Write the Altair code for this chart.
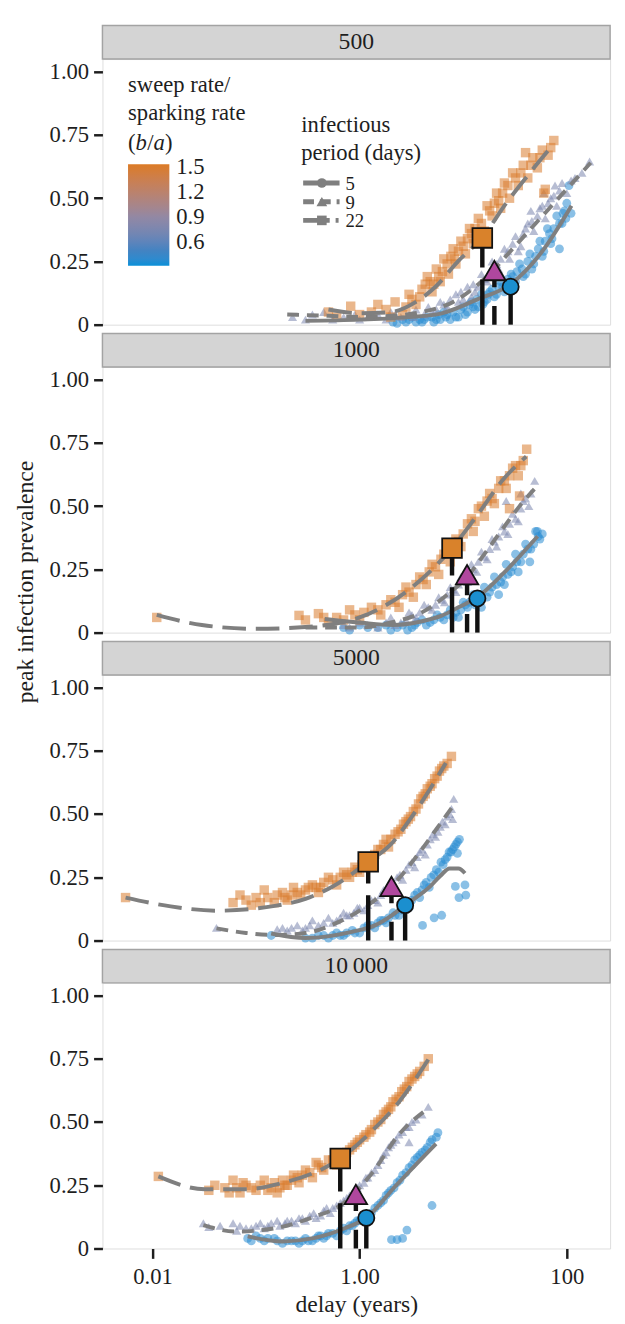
import altair as alt
import pandas as pd

FONT = "Liberation Serif, 'Times New Roman', Times, serif"
INK = "#1e1e1e"
GREY = "#7f7f7f"
W, H, STRIP = 516, 270, 34

PANELS = ["500", "1000", "5000", "10\u2009000"]
PERIODS = ["5", "9", "22"]
RATIO = [0.38, 0.76, 1.50]          # b/a of each infectious-period series
X_DOMAIN = [0.00329, 262]
Y_DOMAIN = [0, 1.05]
X_TICKS = [0.01, 1, 100]
Y_TICKS = [0, 0.25, 0.5, 0.75, 1.0]
COLOR_DOMAIN = [0.32, 0.5, 0.9, 1.53]
COLOR_RANGE = ["#0a90d8", "#4383c2", "#9288a4", "#dc7b25"]
LEGEND_VALUES = [0.6, 0.9, 1.2, 1.5]

# ---------------- panel 500 ----------------
P500_CIRCLES = [(2.1, 0.01), (2.6, 0.02), (3, 0.02), (3.5, 0.01), (4, 0.01), (4.5, 0.03), (5, 0.03), (5.5, 0.02),
                (6, 0.02), (6.5, 0.05), (7, 0.04), (8, 0.05), (8.5, 0.03), (9, 0.03), (10, 0.07), (11, 0.05),
                (12, 0.09), (13, 0.06), (14, 0.07), (15, 0.12), (16, 0.09), (17, 0.1), (19, 0.14), (20, 0.11),
                (21, 0.12), (23, 0.17), (25, 0.13), (26, 0.14), (29, 0.2), (31, 0.16), (32, 0.17), (35, 0.24),
                (38, 0.19), (40, 0.2), (44, 0.28), (46, 0.22), (48, 0.24), (55, 0.33), (58, 0.27), (60, 0.29),
                (65, 0.38), (70, 0.32), (72, 0.34), (80, 0.43), (85, 0.3), (90, 0.4), (95, 0.45), (100, 0.48),
                (105, 0.55), (110, 0.44),
                (2.3, 0.005), (2.8, 0.01), (3.2, 0.03), (3.8, 0.02), (4.2, 0.02), (5.2, 0.01), (5.8, 0.04),
                (6.8, 0.03), (7.5, 0.02), (9.5, 0.06), (10.5, 0.04), (11.5, 0.08), (12.5, 0.07), (13.5, 0.1),
                (15.5, 0.08), (17.5, 0.12), (18, 0.13), (22, 0.15), (24, 0.15), (27, 0.18), (28, 0.16), (30, 0.19),
                (33, 0.21), (37, 0.22), (42, 0.25), (50, 0.27), (53, 0.3), (62, 0.33), (68, 0.36), (75, 0.38),
                (85, 0.4), (92, 0.44), (98, 0.42)]
P500_TRIANGLES = [(0.225, 0.03), (0.3, 0.02), (0.45, 0.05), (0.7, 0.03), (1.0, 0.02), (1.5, 0.04), (2.0, 0.05),
                  (2.5, 0.03), (3.0, 0.04), (3.5, 0.06), (4.2, 0.04), (5, 0.05), (6, 0.09), (7, 0.07), (8.5, 0.12),
                  (10, 0.1), (11, 0.15), (12, 0.11), (13, 0.13), (15, 0.2), (17, 0.17), (19, 0.25), (22, 0.22),
                  (24, 0.19), (25, 0.3), (28, 0.26), (32, 0.35), (34, 0.29), (36, 0.31), (42, 0.4), (45, 0.45),
                  (48, 0.37), (55, 0.46), (60, 0.52), (62, 0.42), (70, 0.5), (77, 0.55), (80, 0.47), (90, 0.56),
                  (100, 0.52), (120, 0.58), (166, 0.645),
                  (0.35, 0.04), (0.55, 0.02), (0.9, 0.04), (1.2, 0.03), (1.8, 0.02), (2.2, 0.04), (3.3, 0.03),
                  (4.6, 0.07), (5.5, 0.06), (6.5, 0.08), (7.5, 0.1), (9, 0.09), (9.5, 0.13), (12.5, 0.16),
                  (14, 0.15), (16, 0.18), (18, 0.21), (20, 0.2), (21, 0.24), (23, 0.26), (27, 0.29), (30, 0.32),
                  (38, 0.36), (40, 0.38), (46, 0.41), (52, 0.43), (58, 0.47), (66, 0.48), (75, 0.51), (85, 0.53),
                  (110, 0.57), (140, 0.6)]
P500_SQUARES = [(0.82, 0.073), (1.0, 0.04), (1.3, 0.05), (1.8, 0.06), (2.2, 0.09), (2.6, 0.04), (3.0, 0.12),
                (3.5, 0.08), (4.0, 0.14), (4.5, 0.19), (5.0, 0.13), (5.5, 0.22), (6.0, 0.17), (6.5, 0.26), (7.2, 0.2),
                (8.0, 0.3), (8.5, 0.24), (9.5, 0.33), (10.5, 0.28), (11.5, 0.38), (12.5, 0.32), (14, 0.42),
                (16, 0.37), (17, 0.47), (19, 0.43), (21, 0.52), (23, 0.46), (25, 0.56), (28, 0.5), (30, 0.6),
                (34, 0.55), (38, 0.63), (40, 0.68), (42, 0.58), (47, 0.66), (52, 0.62), (58, 0.69), (60, 0.52),
                (62, 0.535), (66, 0.67), (75, 0.728),
                (0.5, 0.05), (0.6, 0.03), (1.5, 0.08), (2.0, 0.03), (2.8, 0.07), (3.2, 0.1), (3.8, 0.11),
                (4.3, 0.16), (4.8, 0.17), (5.2, 0.16), (5.8, 0.19), (6.3, 0.21), (7.0, 0.24), (7.6, 0.27),
                (8.2, 0.26), (9.0, 0.29), (10, 0.31), (11, 0.34), (12, 0.36), (13, 0.38), (15, 0.4), (18, 0.45),
                (20, 0.48), (22, 0.49), (24, 0.52), (27, 0.55), (32, 0.58), (36, 0.6), (45, 0.63), (55, 0.66),
                (70, 0.7)]
P500_FIT5 = [(0.3, 0.015), (1, 0.02), (3, 0.03), (6.2, 0.045), (13.7, 0.1), (28.7, 0.16), (58, 0.29), (111, 0.47)]
P500_FIT9 = [(0.2, 0.04), (0.5, 0.035), (1, 0.03), (2, 0.035), (4, 0.05), (8, 0.09), (14, 0.16), (20, 0.22),
             (30, 0.3), (50, 0.4), (97, 0.53), (170, 0.64)]
P500_FIT22 = [(0.5, 0.06), (1, 0.045), (2, 0.05), (3.5, 0.09), (5.4, 0.15), (8.9, 0.25), (15.3, 0.345), (26, 0.48),
              (44, 0.6), (70, 0.7)]
P500_PEAKS = [(28.7, 0.15), (20.0, 0.214), (15.3, 0.343)]

# ---------------- panel 1000 ----------------
P1000_CIRCLES = [(0.7, 0.02), (1.0, 0.03), (1.5, 0.02), (2, 0.01), (2.6, 0.03), (3.2, 0.02), (3.6, 0.04), (4, 0.05),
                 (4.8, 0.04), (5.6, 0.07), (6.5, 0.05), (7.5, 0.09), (8.5, 0.08), (9, 0.06), (10, 0.12), (11, 0.1),
                 (12.5, 0.15), (14, 0.13), (15, 0.1), (16, 0.18), (18, 0.16), (20, 0.22), (22, 0.15), (23, 0.2),
                 (25, 0.19), (26, 0.27), (29, 0.24), (32, 0.31), (34, 0.24), (36, 0.28), (40, 0.35), (44, 0.28),
                 (45, 0.33), (50, 0.4), (52, 0.4), (55, 0.37),
                 (0.8, 0.01), (1.2, 0.02), (1.8, 0.03), (2.3, 0.02), (2.9, 0.01), (3.4, 0.03), (4.4, 0.03),
                 (5.2, 0.05), (6, 0.06), (7, 0.07), (8, 0.06), (9.5, 0.09), (10.5, 0.11), (11.5, 0.12), (13, 0.11),
                 (15, 0.15), (17, 0.14), (19, 0.18), (21, 0.19), (24, 0.22), (27, 0.23), (30, 0.26), (33, 0.28),
                 (38, 0.31), (42, 0.33), (48, 0.35), (53, 0.38), (58, 0.39)]
P1000_TRIANGLES = [(0.7, 0.03), (1.0, 0.04), (1.5, 0.02), (2, 0.06), (2.5, 0.04), (3, 0.08), (3.5, 0.06),
                   (4.2, 0.11), (5, 0.09), (5.8, 0.14), (6.6, 0.12), (7.5, 0.18), (8.5, 0.16), (9.5, 0.22), (11, 0.2),
                   (12, 0.27), (13.5, 0.24), (15, 0.32), (17, 0.29), (19, 0.37), (21, 0.34), (24, 0.42), (26, 0.52),
                   (27, 0.39), (30, 0.47), (34, 0.44), (36, 0.55), (38, 0.52), (43, 0.5), (49, 0.6),
                   (0.8, 0.02), (1.2, 0.03), (1.8, 0.04), (2.2, 0.03), (2.8, 0.05), (3.2, 0.07), (3.8, 0.08),
                   (4.6, 0.1), (5.4, 0.11), (6.2, 0.13), (7, 0.15), (8, 0.17), (9, 0.19), (10, 0.21), (11.5, 0.23),
                   (12.5, 0.25), (14, 0.28), (16, 0.3), (18, 0.33), (20, 0.36), (22, 0.38), (25, 0.4), (28, 0.43),
                   (32, 0.45), (36, 0.49), (40, 0.53), (45, 0.55)]
P1000_SQUARES = [(0.011, 0.06), (0.26, 0.068), (0.4, 0.075), (0.5, 0.04), (0.6, 0.06), (0.8, 0.09), (1.0, 0.05),
                 (1.3, 0.1), (1.6, 0.07), (2.0, 0.13), (2.4, 0.1), (2.8, 0.18), (3.3, 0.14), (3.8, 0.22), (4.4, 0.19),
                 (5, 0.27), (5.8, 0.23), (6.5, 0.31), (7.5, 0.28), (8.5, 0.37), (9.5, 0.34), (11, 0.43), (12.5, 0.4),
                 (14, 0.49), (16, 0.46), (18, 0.55), (20, 0.51), (23, 0.6), (26, 0.57), (28, 0.49), (30, 0.65),
                 (34, 0.62), (35, 0.54), (38, 0.68), (41, 0.725),
                 (0.3, 0.05), (0.45, 0.06), (0.7, 0.05), (0.9, 0.07), (1.1, 0.08), (1.5, 0.09), (1.8, 0.11),
                 (2.2, 0.12), (2.6, 0.15), (3.0, 0.16), (3.5, 0.19), (4.1, 0.21), (4.7, 0.24), (5.4, 0.26),
                 (6.1, 0.29), (7, 0.32), (8, 0.33), (9, 0.36), (10, 0.39), (12, 0.45), (13, 0.44), (15, 0.5),
                 (17, 0.52), (19, 0.53), (22, 0.57), (25, 0.6), (28, 0.62), (32, 0.66), (36, 0.66)]
P1000_FIT5 = [(0.46, 0.054), (1, 0.04), (2.1, 0.03), (4, 0.045), (6.2, 0.067), (9, 0.1), (13.7, 0.14), (24.4, 0.234),
              (52.3, 0.381)]
P1000_FIT9 = [(0.3, 0.02), (1, 0.02), (2, 0.04), (4, 0.08), (7, 0.15), (10.9, 0.22), (16, 0.31), (25, 0.42),
              (35, 0.5), (48.6, 0.567)]
P1000_FIT22 = [(0.011, 0.07), (0.03, 0.03), (0.1, 0.015), (0.3, 0.022), (1.0, 0.06), (3.0, 0.17), (7.8, 0.334),
               (13.7, 0.465), (24.4, 0.606), (40.6, 0.696)]
P1000_PEAKS = [(13.7, 0.135), (10.9, 0.229), (7.8, 0.334)]

# ---------------- panel 5000 ----------------
P5000_CIRCLES = [(0.14, 0.02), (0.3, 0.01), (0.4, 0.02), (0.5, 0.01), (0.6, 0.03), (0.7, 0.02), (0.85, 0.04),
                 (1.0, 0.03), (1.2, 0.06), (1.4, 0.05), (1.6, 0.08), (1.8, 0.07), (2.1, 0.11), (2.4, 0.1),
                 (2.7, 0.14), (3.0, 0.13), (3.4, 0.18), (3.8, 0.17), (4.2, 0.22), (4.7, 0.21), (5.2, 0.26),
                 (5.8, 0.27), (6.4, 0.3), (7.0, 0.33), (7.6, 0.35), (8.2, 0.37), (8.8, 0.39), (8.8, 0.345),
                 (4.05, 0.06), (5.24, 0.09), (6.2, 0.1), (8.4, 0.214), (10.4, 0.22), (9.1, 0.17), (10.6, 0.18),
                 (0.35, 0.01), (0.45, 0.02), (0.55, 0.02), (0.65, 0.02), (0.75, 0.03), (0.9, 0.03), (1.1, 0.05),
                 (1.3, 0.06), (1.5, 0.07), (1.7, 0.08), (1.9, 0.09), (2.2, 0.1), (2.5, 0.12), (2.85, 0.15),
                 (3.2, 0.16), (3.6, 0.19), (4.0, 0.2), (4.4, 0.23), (4.9, 0.25), (5.5, 0.28), (6.1, 0.31),
                 (6.7, 0.32), (7.3, 0.35), (7.9, 0.36), (8.5, 0.38), (9.2, 0.4)]
P5000_TRIANGLES = [(0.0415, 0.05), (0.16, 0.045), (0.2, 0.04), (0.25, 0.06), (0.3, 0.05), (0.35, 0.08), (0.4, 0.06),
                   (0.5, 0.09), (0.6, 0.08), (0.7, 0.11), (0.8, 0.1), (0.95, 0.13), (1.1, 0.12), (1.3, 0.16),
                   (1.5, 0.15), (1.7, 0.2), (2.0, 0.19), (2.3, 0.25), (2.6, 0.24), (3.0, 0.3), (3.4, 0.29),
                   (3.8, 0.35), (4.3, 0.34), (4.8, 0.4), (5.4, 0.41), (6.0, 0.45), (6.7, 0.46), (7.4, 0.5),
                   (7.9, 0.48), (8.1, 0.56),
                   (0.18, 0.05), (0.22, 0.05), (0.28, 0.04), (0.33, 0.06), (0.45, 0.07), (0.55, 0.07), (0.65, 0.09),
                   (0.75, 0.1), (0.88, 0.11), (1.0, 0.13), (1.2, 0.14), (1.4, 0.16), (1.6, 0.18), (1.85, 0.2),
                   (2.15, 0.22), (2.45, 0.26), (2.8, 0.28), (3.2, 0.31), (3.6, 0.33), (4.0, 0.36), (4.5, 0.38),
                   (5.1, 0.42), (5.7, 0.43), (6.3, 0.47), (7.0, 0.49), (7.7, 0.52)]
P5000_SQUARES = [(0.0055, 0.17), (0.06, 0.15), (0.07, 0.18), (0.09, 0.14), (0.1, 0.17), (0.12, 0.2), (0.15, 0.15),
                 (0.18, 0.19), (0.2, 0.16), (0.23, 0.21), (0.27, 0.18), (0.3, 0.2), (0.35, 0.22), (0.4, 0.19),
                 (0.45, 0.23), (0.5, 0.25), (0.6, 0.22), (0.7, 0.27), (0.8, 0.25), (0.9, 0.29), (1.0, 0.27),
                 (1.1, 0.31), (1.3, 0.33), (1.5, 0.36), (1.7, 0.38), (1.9, 0.37), (2.2, 0.42), (2.5, 0.44),
                 (2.8, 0.47), (3.1, 0.49), (3.5, 0.52), (3.9, 0.56), (4.3, 0.58), (4.8, 0.61), (5.3, 0.64),
                 (5.9, 0.67), (6.5, 0.69), (7.7, 0.728),
                 (0.08, 0.16), (0.11, 0.15), (0.13, 0.17), (0.16, 0.18), (0.19, 0.17), (0.22, 0.18), (0.25, 0.19),
                 (0.32, 0.21), (0.38, 0.21), (0.42, 0.21), (0.55, 0.24), (0.65, 0.25), (0.75, 0.26), (0.85, 0.27),
                 (0.95, 0.28), (1.05, 0.3), (1.2, 0.32), (1.4, 0.34), (1.6, 0.36), (1.8, 0.4), (2.0, 0.4),
                 (2.35, 0.43), (2.65, 0.46), (2.95, 0.48), (3.3, 0.51), (3.7, 0.54), (4.1, 0.57), (4.5, 0.6),
                 (5.0, 0.62), (5.6, 0.65), (6.2, 0.68), (7.0, 0.7)]
P5000_FIT5 = [(0.14, 0.028), (0.3, 0.01), (0.86, 0.035), (1.4, 0.06), (2.03, 0.099), (2.75, 0.14), (4.8, 0.214),
              (6.0, 0.255), (7.4, 0.285), (9.0, 0.285), (10.4, 0.266)]
P5000_FIT9 = [(0.0415, 0.048), (0.08, 0.03), (0.152, 0.022), (0.3, 0.03), (0.6, 0.07), (1.2, 0.14), (2.03, 0.214),
              (3.5, 0.33), (5.5, 0.44), (8.07, 0.535)]
P5000_FIT22 = [(0.0055, 0.17), (0.015, 0.135), (0.0415, 0.118), (0.152, 0.137), (0.3, 0.165), (0.55, 0.214),
               (1.21, 0.311), (2.0, 0.38), (3.12, 0.484), (4.8, 0.6), (6.8, 0.702)]
P5000_PEAKS = [(2.75, 0.14), (2.03, 0.214), (1.21, 0.311)]

# ---------------- panel 10 000 ----------------
P10000_CIRCLES = [(0.083, 0.04), (0.1, 0.05), (0.12, 0.03), (0.15, 0.04), (0.18, 0.02), (0.22, 0.03), (0.26, 0.02),
                  (0.3, 0.04), (0.35, 0.03), (0.4, 0.05), (0.45, 0.04), (0.5, 0.06), (0.6, 0.05), (0.7, 0.08),
                  (0.8, 0.09), (0.9, 0.1), (1.0, 0.11), (1.2, 0.13), (1.4, 0.16), (1.6, 0.18), (1.8, 0.21),
                  (2.0, 0.23), (2.3, 0.26), (2.6, 0.29), (3.0, 0.32), (3.4, 0.35), (3.8, 0.37), (4.3, 0.39),
                  (4.8, 0.42), (5.5, 0.44), (5.7, 0.458), (2.03, 0.035), (2.3, 0.035), (2.6, 0.04), (2.86, 0.073),
                  (5.0, 0.17),
                  (0.09, 0.03), (0.11, 0.04), (0.13, 0.04), (0.16, 0.03), (0.2, 0.03), (0.24, 0.03), (0.28, 0.03),
                  (0.32, 0.03), (0.38, 0.04), (0.42, 0.05), (0.48, 0.05), (0.55, 0.06), (0.65, 0.07), (0.75, 0.07),
                  (0.85, 0.09), (0.95, 0.11), (1.1, 0.12), (1.3, 0.14), (1.5, 0.17), (1.7, 0.19), (1.9, 0.22),
                  (2.15, 0.24), (2.45, 0.27), (2.8, 0.3), (3.2, 0.33), (3.6, 0.36), (4.0, 0.38), (4.5, 0.4),
                  (5.0, 0.43)]
P10000_TRIANGLES = [(0.031, 0.1), (0.035, 0.085), (0.06, 0.1), (0.065, 0.07), (0.08, 0.08), (0.1, 0.09),
                    (0.12, 0.08), (0.14, 0.1), (0.17, 0.09), (0.2, 0.11), (0.24, 0.1), (0.28, 0.12), (0.33, 0.13),
                    (0.38, 0.12), (0.45, 0.15), (0.52, 0.14), (0.6, 0.17), (0.7, 0.19), (0.8, 0.21), (0.9, 0.23),
                    (1.0, 0.25), (1.15, 0.28), (1.3, 0.3), (1.5, 0.33), (1.7, 0.37), (1.9, 0.4), (2.1, 0.42),
                    (2.4, 0.45), (2.8, 0.48), (3.0, 0.42), (3.2, 0.5), (4.6, 0.56),
                    (0.045, 0.09), (0.07, 0.09), (0.09, 0.08), (0.11, 0.1), (0.13, 0.09), (0.16, 0.11), (0.19, 0.1),
                    (0.22, 0.11), (0.26, 0.12), (0.3, 0.11), (0.36, 0.14), (0.42, 0.13), (0.48, 0.16), (0.55, 0.16),
                    (0.65, 0.18), (0.75, 0.2), (0.85, 0.22), (0.95, 0.24), (1.1, 0.26), (1.2, 0.28), (1.4, 0.31),
                    (1.6, 0.35), (1.8, 0.38), (2.0, 0.41), (2.25, 0.43), (2.6, 0.46), (3.0, 0.48), (3.5, 0.51),
                    (4.0, 0.53)]
P10000_SQUARES = [(0.0114, 0.285), (0.035, 0.23), (0.05, 0.24), (0.06, 0.27), (0.07, 0.22), (0.08, 0.25),
                  (0.1, 0.23), (0.12, 0.27), (0.14, 0.24), (0.16, 0.22), (0.18, 0.27), (0.2, 0.25), (0.23, 0.29),
                  (0.26, 0.26), (0.3, 0.31), (0.35, 0.28), (0.4, 0.33), (0.45, 0.31), (0.5, 0.35), (0.6, 0.33),
                  (0.7, 0.37), (0.8, 0.39), (0.9, 0.41), (1.0, 0.43), (1.15, 0.45), (1.3, 0.47), (1.5, 0.5),
                  (1.7, 0.53), (1.9, 0.55), (2.1, 0.58), (2.4, 0.6), (2.7, 0.63), (3.0, 0.66), (3.4, 0.68),
                  (3.8, 0.7), (4.6, 0.75),
                  (0.04, 0.25), (0.055, 0.22), (0.065, 0.24), (0.075, 0.26), (0.09, 0.24), (0.11, 0.25),
                  (0.13, 0.23), (0.15, 0.26), (0.17, 0.24), (0.19, 0.25), (0.22, 0.27), (0.25, 0.28), (0.28, 0.29),
                  (0.33, 0.3), (0.38, 0.34), (0.43, 0.32), (0.55, 0.35), (0.65, 0.36), (0.75, 0.38), (0.85, 0.4),
                  (0.95, 0.42), (1.1, 0.44), (1.25, 0.46), (1.4, 0.49), (1.6, 0.51), (1.8, 0.54), (2.0, 0.56),
                  (2.25, 0.59), (2.55, 0.62), (2.85, 0.64), (3.2, 0.67), (3.6, 0.69), (4.2, 0.72)]
P10000_FIT5 = [(0.083, 0.048), (0.18, 0.028), (0.36, 0.041), (0.72, 0.08), (1.16, 0.121), (2.21, 0.246),
               (5.47, 0.414)]
P10000_FIT9 = [(0.031, 0.092), (0.064, 0.067), (0.152, 0.08), (0.36, 0.125), (0.65, 0.17), (1.32, 0.298),
               (2.41, 0.452), (4.6, 0.554)]
P10000_FIT22 = [(0.0114, 0.285), (0.032, 0.234), (0.076, 0.234), (0.18, 0.259), (0.65, 0.356), (1.32, 0.465),
                (2.41, 0.58), (4.6, 0.747)]
P10000_PEAKS = [(1.16, 0.121), (0.92, 0.214), (0.65, 0.356)]

PANEL_DATA = [
    ([P500_CIRCLES, P500_TRIANGLES, P500_SQUARES], [P500_FIT5, P500_FIT9, P500_FIT22], P500_PEAKS),
    ([P1000_CIRCLES, P1000_TRIANGLES, P1000_SQUARES], [P1000_FIT5, P1000_FIT9, P1000_FIT22], P1000_PEAKS),
    ([P5000_CIRCLES, P5000_TRIANGLES, P5000_SQUARES], [P5000_FIT5, P5000_FIT9, P5000_FIT22], P5000_PEAKS),
    ([P10000_CIRCLES, P10000_TRIANGLES, P10000_SQUARES], [P10000_FIT5, P10000_FIT9, P10000_FIT22], P10000_PEAKS),
]

# ---------------- styles ----------------
SHAPES = ["circle", "triangle-up", "square"]
PT_SIZES = [80, 92, 88]
BIG_SIZES = [270, 520, 400]
BIG_FILLS = ["#1b8fcf", "#b0479e", "#d9822b"]
FIT_DASH = [None, [12, 8], [24, 10]]
VLINE_DASH = [None, [19, 19], [46, 12]]
LEG_DASH = [None, [11, 6], [27, 6, 3, 6]]
ONE = pd.DataFrame({"k": [0]})

LEG_X, LEG_Y, LEG_LEN, LEG_THICK = 26, 107, 103, 42

xs = alt.Scale(type="log", domain=X_DOMAIN, nice=False)
ys = alt.Scale(domain=Y_DOMAIN, nice=False, zero=False)


def y_axis(i):
    kw = dict(values=Y_TICKS, labelExpr="datum.value == 0 ? '0' : format(datum.value, '.2f')",
              domain=False, grid=False, tickSize=9, tickWidth=2.5, tickColor=INK,
              labelFont=FONT, labelFontSize=23, labelColor=INK, labelPadding=5)
    if i == 1:
        kw.update(title="peak infection prevalence", titleFont=FONT, titleFontSize=24,
                  titleFontWeight="normal", titleColor=INK, titleY=218, titlePadding=12)
    else:
        kw["title"] = None
    return alt.Axis(**kw)


def x_axis(i):
    if i != 3:
        return None
    return alt.Axis(values=X_TICKS, labelExpr="datum.value >= 100 ? '100' : format(datum.value, '.2f')",
                    domain=False, grid=False, tickSize=10, tickWidth=2.5, tickColor=INK,
                    labelFont=FONT, labelFontSize=23, labelColor=INK, labelPadding=8,
                    title="delay (years)", titleFont=FONT, titleFontSize=24, titleFontWeight="normal",
                    titleColor=INK, titlePadding=4)


def text(s, x, y, size=23, style="normal", align="left", baseline="alphabetic"):
    return alt.Chart(ONE).mark_text(text=s, font=FONT, fontSize=size, fontStyle=style, align=align,
                                    baseline=baseline, color=INK).encode(x=alt.value(x), y=alt.value(y))


def make_panel(i):
    series, fits, peaks = PANEL_DATA[i]
    X = alt.X("x:Q", scale=xs, axis=x_axis(i))
    Y = alt.Y("y:Q", scale=ys, axis=y_axis(i))

    rows = []
    for j, pts in enumerate(series):
        for (x, y) in pts:
            rows.append({"x": x, "y": y, "period": PERIODS[j], "ratio": RATIO[j]})
    pts_df = pd.DataFrame(rows)

    legend = None
    if i == 0:
        legend = alt.Legend(title=None, orient="none", legendX=LEG_X, legendY=LEG_Y, direction="vertical",
                            gradientLength=LEG_LEN, gradientThickness=LEG_THICK, gradientStrokeWidth=0,
                            values=LEGEND_VALUES, labelFont=FONT, labelFontSize=23, labelColor=INK,
                            labelOffset=7, labelOverlap=False, padding=0)

    layers = []
    # strip
    layers.append(alt.Chart(ONE).mark_rect(fill="#d4d4d4", stroke="#a3a3a3", strokeWidth=1.5).encode(
        x=alt.value(0), x2=alt.value(W), y=alt.value(-STRIP), y2=alt.value(0)))
    layers.append(text(PANELS[i], W / 2, -STRIP / 2, size=24, align="center", baseline="middle"))

    layers.append(alt.Chart(pts_df).mark_point(filled=True, fillOpacity=0.55).encode(
        x=X, y=Y,
        color=alt.Color("ratio:Q", scale=alt.Scale(domain=COLOR_DOMAIN, range=COLOR_RANGE, interpolate="lab"),
                        legend=legend),
        shape=alt.Shape("period:N", scale=alt.Scale(domain=PERIODS, range=SHAPES), legend=None),
        size=alt.Size("period:N", scale=alt.Scale(domain=PERIODS, range=PT_SIZES), legend=None),
    ))

    for j in range(3):
        fdf = pd.DataFrame(fits[j], columns=["x", "y"])
        kw = dict(color=GREY, strokeWidth=4, interpolate="monotone")
        if FIT_DASH[j]:
            kw["strokeDash"] = FIT_DASH[j]
        layers.append(alt.Chart(fdf).mark_line(**kw).encode(x=X, y=Y))

    for j in range(3):
        px, py = peaks[j]
        vdf = pd.DataFrame({"x": [px], "y": [py], "y0": [0.0]})
        kw = dict(color="#111111", strokeWidth=4.5)
        if VLINE_DASH[j]:
            kw["strokeDash"] = VLINE_DASH[j]
        layers.append(alt.Chart(vdf).mark_rule(**kw).encode(
            x=X, y=alt.Y("y0:Q", scale=ys, axis=y_axis(i)), y2="y:Q"))

    for j in range(3):
        px, py = peaks[j]
        mdf = pd.DataFrame({"x": [px], "y": [py]})
        layers.append(alt.Chart(mdf).mark_point(shape=SHAPES[j], size=BIG_SIZES[j], filled=True,
                                                color=BIG_FILLS[j], stroke="#111111", strokeWidth=1.8,
                                                opacity=1).encode(x=X, y=Y))

    if i == 0:
        # colour-bar title and white tick marks
        layers.append(text("sweep rate/", LEG_X, 33))
        layers.append(text("sparking rate", LEG_X, 62))
        for s, dx, st in [("(", 0, "normal"), ("b", 7.7, "italic"), ("/", 19.5, "normal"),
                          ("a", 25.9, "italic"), (")", 37.6, "normal")]:
            layers.append(text(s, LEG_X + dx, 92, style=st))
        lo, hi = COLOR_DOMAIN[0], COLOR_DOMAIN[-1]
        for v in LEGEND_VALUES:
            ty = LEG_Y + (hi - v) / (hi - lo) * LEG_LEN
            for x1, x2 in [(LEG_X, LEG_X + 6), (LEG_X + LEG_THICK - 6, LEG_X + LEG_THICK)]:
                layers.append(alt.Chart(ONE).mark_rule(color="white", strokeWidth=1.4).encode(
                    x=alt.value(x1), x2=alt.value(x2), y=alt.value(ty)))
        # infectious-period key
        layers.append(text("infectious", 202, 74))
        layers.append(text("period (days)", 202, 103))
        for j, yy in enumerate([126, 145, 164]):
            kw = dict(color=GREY, strokeWidth=5)
            if LEG_DASH[j]:
                kw["strokeDash"] = LEG_DASH[j]
            layers.append(alt.Chart(ONE).mark_rule(**kw).encode(
                x=alt.value(204), x2=alt.value(241), y=alt.value(yy)))
            layers.append(alt.Chart(ONE).mark_point(shape=SHAPES[j], size=[95, 120, 95][j], filled=True,
                                                    color=GREY, opacity=1).encode(
                x=alt.value(223), y=alt.value(yy)))
            layers.append(text(PERIODS[j], 247, yy + 1, size=19, baseline="middle"))

    return alt.layer(*layers).properties(width=W, height=H)


chart = alt.vconcat(*[make_panel(i) for i in range(4)], spacing=STRIP + 9, bounds="flush").resolve_scale(
    color="independent", shape="independent", size="independent", x="independent", y="independent"
).configure_view(stroke="#a3a3a3", strokeWidth=1.5).configure(background="white")

chart.save("out.html", embed_options={"renderer": "svg", "actions": False})
